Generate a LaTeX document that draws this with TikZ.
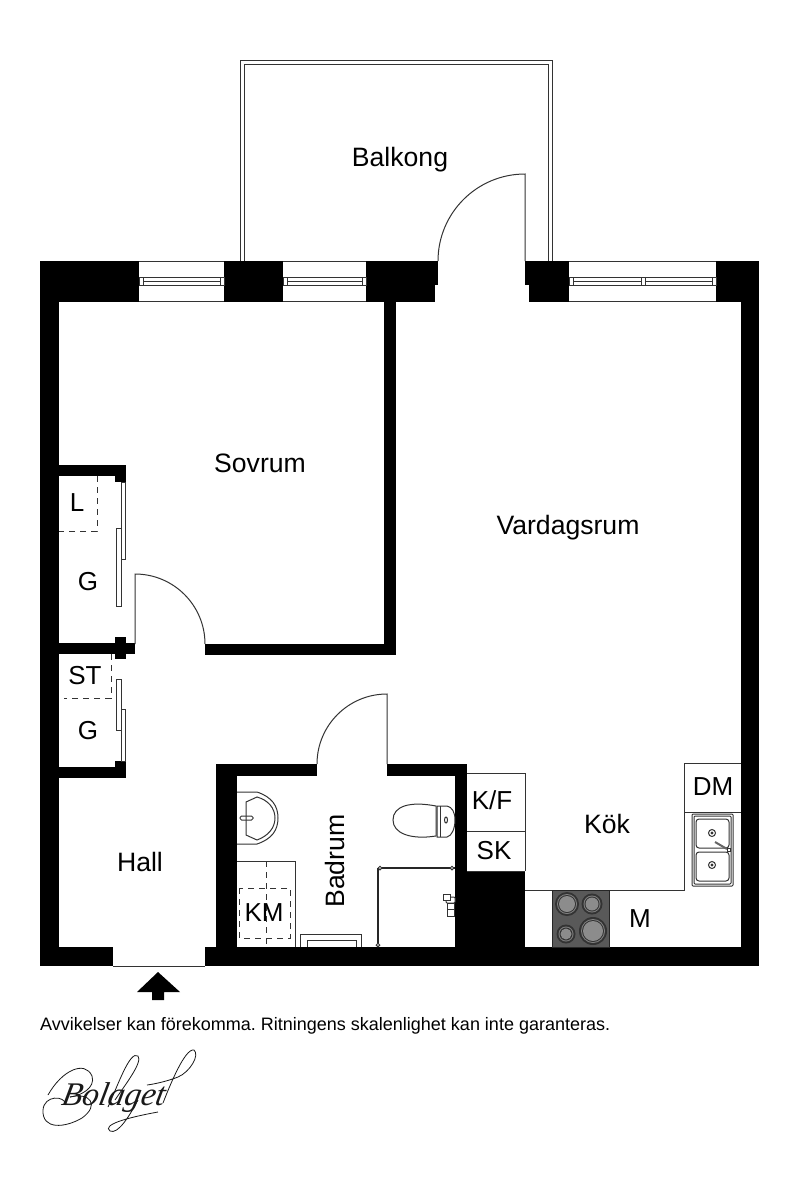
\documentclass[tikz,border=0pt]{standalone}
\usepackage{fontspec}
\setmainfont{Liberation Sans}
\newfontfamily\signfont{Liberation Serif}[ItalicFeatures={FakeSlant=0.2}]
\tikzset{
  thin line/.style={draw=black!80, line width=1pt},
  long dash/.style={dash pattern=on 6pt off 5pt},
  room/.style={font=\fontsize{26.6}{26.6}\selectfont, inner sep=0pt},
  small room/.style={font=\fontsize{26}{26}\selectfont, inner sep=0pt},
  swash/.style={draw=black!90, line width=0.8pt},
}
\begin{document}
\begin{tikzpicture}[x=1pt,y=-1pt]
  \useasboundingbox (0,0) rectangle (800,1192);

  % walls
  \foreach \xa/\ya/\xb/\yb in {40/261/139/302,224/261/283/302,366/261/438/285,366/285/435/302,
    525/261/569/285,529/285/569/302,716/261/759/302,40/302/59/966,741/302/759/966,
    384/302/396/655,205/644/396/655,59/465/126/476,115/476/126/482,
    59/643/135/654,115/637/126/659,59/767/126/778,115/761/126/767,
    216/764/317/776,216/776/237/947,387/764/467/776,455/776/467/871,
    455/871/525/947,205/947/759/966,40/947/113/966} {
    \fill (\xa,\ya) rectangle (\xb,\yb);}
  \draw[thin line] (113,966) -- (205,966);

  % windows
  \foreach \xa/\xb in {139/224,283/366,569/716} {
    \draw[thin line] (\xa,261) -- (\xb,261) (\xa,301) -- (\xb,301);
    \draw[thin line] (\xa,277) rectangle (\xb,285);
    \draw[thin line] (\xa,281) -- (\xb,281);
    \draw[thin line,fill=white] (\xa,277) rectangle (\xa+4,285);
    \draw[thin line,fill=white] (\xb-4,277) rectangle (\xb,285);}
  \draw[thin line,fill=white] (641,277) rectangle (645,285);

  % balcony
  \draw[thin line] (240,261) -- (240,60) -- (552,60) -- (552,261);
  \draw[thin line] (244,261) -- (244,64) -- (548,64) -- (548,261);

  % doors
  \draw[thin line] (438,261) arc[start angle=180,end angle=270,radius=87] -- (525,261);
  \draw[thin line] (205,644) arc[start angle=0,end angle=-90,radius=70] -- (135,644);
  \draw[thin line] (317,764) arc[start angle=180,end angle=270,radius=70] -- (387,764);

  % wardrobes
  \foreach \xa/\ya/\xb/\yb in {121/482/125/559,116/528/121/606,116/679/121/730,121/709/125/761} {
    \draw[thin line,fill=white] (\xa,\ya) rectangle (\xb,\yb);}
  \draw[thin line,long dash] (97,476) -- (97,531) -- (59,531);
  \draw[thin line,long dash] (111,654) -- (111,698) -- (64,698);

  % bathroom
  \draw[thin line] (237,792) -- (257,792) .. controls (272,797) and (278,806) .. (278,818)
    .. controls (278,830) and (272,839) .. (257,844) -- (237,844);
  \draw[thin line] (246,802) -- (257,797) .. controls (268,800) and (275,808) .. (275,818)
    .. controls (275,828) and (268,836) .. (257,840) -- (246,835) -- cycle;
  \draw[thin line,rounded corners=1.5pt] (240,816) rectangle (253,820);
  \draw[thin line] (237,861) -- (295,861) -- (295,947);
  \draw[thin line,long dash] (239,888) rectangle (290,938);
  \draw[thin line,long dash] (266,861) -- (266,947);
  \draw[thin line] (300,947) -- (300,934) -- (361,934) -- (361,947);
  \draw[thin line] (307,947) -- (307,940) -- (356,940) -- (356,947);
  \draw[thin line] (436,806) .. controls (410,801) and (393,806) .. (393,820)
    .. controls (393,833) and (410,840) .. (436,836) -- cycle;
  \draw[thin line] (437,806) -- (447,806) .. controls (452,807) and (455,812) .. (455,820)
    .. controls (455,828) and (452,836) .. (447,837) -- (437,837) -- cycle;
  \draw[thin line] (440,806) -- (440,837);
  \draw[thin line] (446,820) ellipse (1.5 and 3);
  \draw[line width=1.2pt,black!85] (378,868) -- (378,947) (378,868) -- (455,868);
  \foreach \x/\y in {380/868,452/868,378/945} {\draw[thin line,fill=white] (\x,\y) circle (1.8);}
  \draw[thin line,fill=white,rounded corners=1pt] (446,897) rectangle (455,903);
  \draw[thin line,fill=white] (447,903) rectangle (454,916);
  \draw[thin line,fill=white] (443,894) rectangle (450,900);
  \draw[thin line] (447,909) -- (454,909);

  % kitchen
  \draw[thin line] (467,773) -- (525,773) -- (525,871) (467,831) -- (525,831) (467,871) -- (525,871);
  \draw[thin line] (525,890) -- (684,890) -- (684,763) -- (741,763) (684,812) -- (741,812);
  \draw[thin line,rounded corners=1pt] (692,814) rectangle (733,886);
  \draw[thin line,rounded corners=1pt] (694,816) rectangle (731,884);
  \draw[thin line,rounded corners=3pt] (696,819) rectangle (729,848);
  \draw[thin line,rounded corners=3pt] (696,852) rectangle (729,881);
  \foreach \y in {833,865} {\draw[thin line] (712,\y) circle (3.5); \draw[thin line] (712,\y) circle (1);}
  \draw[line width=2pt,black!60] (715,842) -- (727,849);
  \draw[thin line,fill=white] (727,848) rectangle (730,851);

  % stove
  \fill[black!65,draw=black!85] (552,890) rectangle (609,947);
  \foreach \x/\y/\r in {567/904/12,592/904/10.5,566/934/9.5,593/931/14} {
    \fill[black!80] (\x,\y) circle (\r);
    \fill[black!50] (\x,\y) circle (\r-2);
    \fill[black!80] (\x,\y) circle (\r-3);
    \fill[black!45] (\x,\y) circle (\r-4);}

  % entrance arrow
  \fill (158,972) -- (180,992) -- (164,992) -- (164,1000) -- (152,1000) -- (152,992) -- (137,992) -- cycle;

  % labels
  \foreach \n/\x/\y/\t in {balkong/400/160/Balkong,sovrum/260/463.5/Sovrum,vardagsrum/568/528/Vardagsrum,
    hall/140/862/Hall,kok/607/824/K\"ok} {
    \node (\n) at (\x,\y) [room] {\t};}
  \foreach \n/\x/\y/\t in {lrum/77/503/L,gupp/88/582/G,strum/85/676/ST,gned/88/731/G,km/264/913/KM,
    kf/492/800/{K/F},sk/494/851/SK,dm/713/787/DM,mrum/640/919/M} {
    \node (\n) at (\x,\y) [small room] {\t};}
  \node (badrum) at (335,861) [room,rotate=90] {Badrum};
  \node (footer) at (40,1026) [anchor=west,inner sep=0pt,font=\fontsize{18}{18}\selectfont]
    {\frenchspacing Avvikelser kan förekomma. Ritningens skalenlighet kan inte garanteras.};

  % signature
  \node (bolaget) at (112,1098) [inner sep=0pt,font=\signfont\itshape\fontsize{33}{33}\selectfont,black!90] {Bolaget};
  \draw[swash] (48,1095) .. controls (62,1070) and (85,1060) .. (92,1076)
    .. controls (96,1088) and (80,1096) .. (70,1097);
  \draw[swash] (70,1097) .. controls (90,1092) and (100,1105) .. (82,1118)
    .. controls (65,1128) and (42,1130) .. (43,1110) .. controls (44,1095) and (65,1095) .. (66,1105);
  \draw[swash] (108,1107) .. controls (118,1085) and (130,1050) .. (138,1056)
    .. controls (143,1062) and (125,1085) .. (115,1100);
  \draw[swash] (163,1103) .. controls (170,1085) and (185,1048) .. (194,1050)
    .. controls (200,1055) and (190,1072) .. (178,1077) .. controls (168,1081) and (155,1084) .. (147,1085);
  \draw[swash] (138,1100) .. controls (130,1115) and (118,1135) .. (110,1131)
    .. controls (102,1125) and (125,1118) .. (158,1112);
\end{tikzpicture}
\end{document}
